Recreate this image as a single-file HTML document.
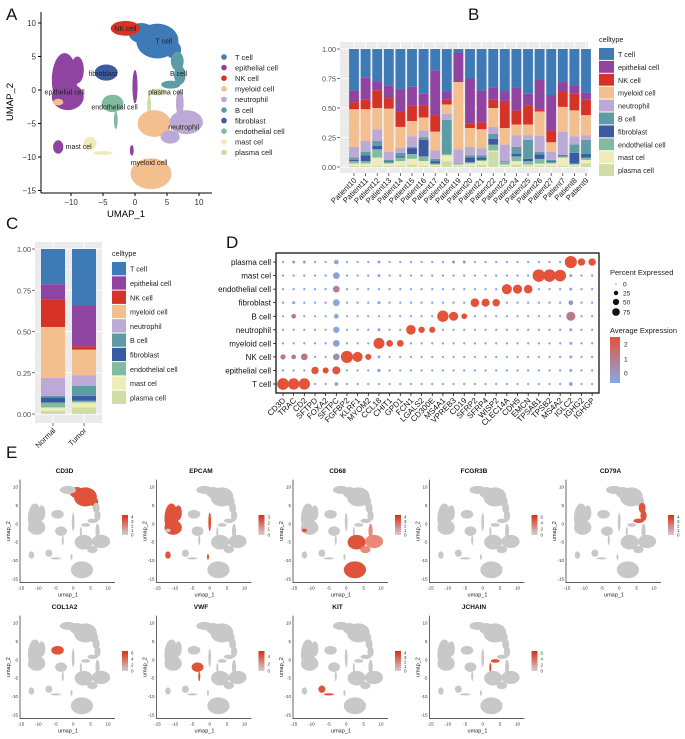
<!DOCTYPE html>
<html><head><meta charset="utf-8"><style>
html,body{margin:0;padding:0;background:#fff;}
svg{display:block;font-family:"Liberation Sans",Arial,sans-serif;}
</style></head><body>
<svg id="fig" width="685" height="739" viewBox="0 0 685 739" xmlns="http://www.w3.org/2000/svg"></svg>
<script>
const NS='http://www.w3.org/2000/svg';
const svg=document.getElementById('fig');
const cellTypes=['T cell','epithelial cell','NK cell','myeloid cell','neutrophil','B cell','fibroblast','endothelial cell','mast cel','plasma cell'];
const colors=['#3E7BB6','#8E44A0','#D63228','#F3BF8E','#BDA9D5','#5E9CA5','#3C5AA3','#80BB9F','#EFEDB7','#CFDDA5'];
// Panel B data (proportions per patient, index aligned with cellTypes)
const patients=['Patient10','Patient11','Patient12','Patient13','Patient14','Patient15','Patient16','Patient17','Patient18','Patient19','Patient20','Patient21','Patient22','Patient23','Patient24','Patient25','Patient26','Patient27','Patient7','Patient8','Patient9'];
const tCell=[.35,.24,.28,.31,.34,.32,.38,.18,.36,.03,.25,.35,.33,.36,.33,.38,.26,.39,.28,.31,.37];
const epiCell=[.10,.19,.07,.11,.19,.16,.10,.38,.07,.25,.38,.27,.10,.08,.19,.10,.26,.30,.08,.07,.06];
const nkCell=[.06,.08,.15,.09,.13,.13,.10,.14,.04,.0,.04,.06,.07,.23,.12,.16,.02,.10,.13,.14,.13];
const myeCell=[.32,.27,.18,.37,.18,.13,.11,.16,.08,.57,.16,.16,.16,.14,.09,.09,.21,.08,.21,.22,.17];
const neuCell=[.09,.09,.10,.07,.04,.09,.06,.07,.05,.12,.07,.06,.06,.14,.10,.04,.14,.07,.20,.07,.04];
const bCell=[.02,.03,.04,.01,.03,.01,.02,.02,.29,.0,.02,.02,.04,.01,.06,.16,.02,.01,.0,.07,.12];
const fibCell=[.01,.05,.03,.01,.01,.05,.14,.02,.0,.0,.04,.02,.05,.0,.02,.02,.04,.01,.01,.09,.03];
const endCell=[.02,.02,.07,.01,.03,.04,.04,.01,.01,.01,.01,.01,.05,.02,.04,.03,.04,.01,.01,.01,.02];
const mastCell=[.02,.02,.07,.02,.04,.05,.04,.01,.05,.01,.02,.03,.01,.01,.03,.01,.02,.02,.07,.01,.03];
const plasCell=[.01,.01,.01,.01,.01,.02,.01,.01,.05,.01,.01,.02,.13,.01,.02,.01,.01,.01,.01,.01,.03];
// Panel C data
const groups=['Normal','Tumor'];
const groupT=[.215,.34];
const groupEpi=[.095,.25];
const groupNK=[.165,.02];
const groupMye=[.31,.155];
const groupNeu=[.11,.065];
const groupB=[.01,.06];
const groupFib=[.03,.03];
const groupEnd=[.03,.01];
const groupMast=[.02,.03];
const groupPlas=[.02,.04];
const propTicks=['0.00','0.25','0.50','0.75','1.00'];
// Panel D data
const genes=['CD3D','TRAC','CD2','SFTPD','FOXA2','SFTPC','FGFBP2','KLRF1','MYOM2','CCL18','CHIT1','GPD1','FCN1','LGALS2','CD300E','MS4A1','VPREB3','CD19','SFRP2','SFRP4','WISP2','CLEC14A','CDH5','EMCN','TPSAB1','TPSB2','MS4A2','IGLC2','IGHG2','IGHGP'];
const pctT   =[75,70,70,3,3,8,3,3,3,3,3,3,3,3,3,3,3,3,3,3,3,3,3,3,3,3,3,8,3,3];
const pctEpi =[3,3,3,30,20,35,3,3,3,6,3,3,3,3,3,3,3,3,3,3,3,3,3,3,3,3,3,5,3,3];
const pctNK  =[15,12,25,3,3,25,80,55,20,5,3,3,3,3,3,3,3,3,3,3,3,3,3,3,3,3,3,5,3,3];
const pctMye =[3,3,3,3,3,25,3,3,3,65,25,25,3,3,3,3,3,3,3,3,3,3,3,3,3,3,3,5,3,3];
const pctNeu =[3,3,3,3,3,22,3,3,3,5,3,3,50,22,20,3,3,3,3,3,3,3,3,3,3,3,3,5,3,3];
const pctB   =[3,12,3,3,3,12,3,3,3,3,3,3,3,3,3,70,45,18,3,3,3,3,3,3,3,3,3,45,3,3];
const pctFib =[3,5,3,3,3,25,3,3,3,5,3,3,3,3,3,3,3,3,40,35,30,3,3,3,3,3,3,12,3,3];
const pctEnd =[3,3,3,3,3,25,3,3,3,3,3,3,3,3,3,3,3,3,3,3,3,55,45,40,3,3,3,5,3,3];
const pctMast=[3,3,3,3,3,25,3,3,3,5,3,3,3,3,3,3,3,3,3,3,3,3,3,3,85,85,75,5,3,3];
const pctPlas=[3,5,5,3,3,12,3,3,3,5,3,3,3,3,3,3,5,5,3,3,3,3,3,3,3,3,3,80,30,30];
const hiExpr=2.3, loExpr=-0.3;
const exprT   =[2.3,2.3,2.3,-.3,-.3,-.2,-.3,-.3,-.3,-.3,-.3,-.3,-.3,-.3,-.3,-.3,-.3,-.3,-.3,-.3,-.3,-.3,-.3,-.3,-.3,-.3,-.3,-.1,-.3,-.3];
const exprEpi =[-.3,-.3,-.3,2.3,2.3,2.2,-.3,-.3,-.3,-.2,-.3,-.3,-.3,-.3,-.3,-.3,-.3,-.3,-.3,-.3,-.3,-.3,-.3,-.3,-.3,-.3,-.3,-.2,-.3,-.3];
const exprNK  =[1.2,1.1,1.2,-.3,-.3,.5,2.3,2.3,2.3,-.2,-.3,-.3,-.3,-.3,-.3,-.3,-.3,-.3,-.3,-.3,-.3,-.3,-.3,-.3,-.3,-.3,-.3,-.2,-.3,-.3];
const exprMye =[-.3,-.3,-.3,-.3,-.3,0,-.3,-.3,-.3,2.3,2.3,2.3,-.3,-.3,-.3,-.3,-.3,-.3,-.3,-.3,-.3,-.3,-.3,-.3,-.3,-.3,-.3,-.2,-.3,-.3];
const exprNeu =[-.3,-.3,-.3,-.3,-.3,-.2,-.3,-.3,-.3,-.2,-.3,-.3,2.3,2.3,2.3,-.3,-.3,-.3,-.3,-.3,-.3,-.3,-.3,-.3,-.3,-.3,-.3,-.2,-.3,-.3];
const exprB   =[-.3,1.1,-.3,-.3,-.3,-.2,-.3,-.3,-.3,-.3,-.3,-.3,-.3,-.3,-.3,2.3,2.3,2.3,-.3,-.3,-.3,-.3,-.3,-.3,-.3,-.3,-.3,1.1,-.3,-.3];
const exprFib =[-.3,-.2,-.3,-.3,-.3,-.2,-.3,-.3,-.3,-.2,-.3,-.3,-.3,-.3,-.3,-.3,-.3,-.3,2.3,2.3,2.3,-.3,-.3,-.3,-.3,-.3,-.3,.3,-.3,-.3];
const exprEnd =[-.3,-.3,-.3,-.3,-.3,.9,-.3,-.3,-.3,-.3,-.3,-.3,-.3,-.3,-.3,-.3,-.3,-.3,-.3,-.3,-.3,2.3,2.3,2.3,-.3,-.3,-.3,-.2,-.3,-.3];
const exprMast=[-.3,-.3,-.3,-.3,-.3,-.1,-.3,-.3,-.3,-.2,-.3,-.3,-.3,-.3,-.3,-.3,-.3,-.3,-.3,-.3,-.3,-.3,-.3,-.3,2.3,2.3,2.3,-.2,-.3,-.3];
const exprPlas=[-.3,-.2,-.2,-.3,-.3,-.2,-.3,-.3,-.3,-.2,-.3,-.3,-.3,-.3,-.3,-.3,.2,.4,-.3,-.3,-.3,-.3,-.3,-.3,-.3,-.3,-.3,2.3,2.3,2.3];
// Panel E
const featureGenes=['CD3D','EPCAM','CD68','FCGR3B','CD79A','COL1A2','VWF','KIT','JCHAIN'];
const featureMax=[4,3,4,6,4,6,5,4,6];

function el(tag,attrs,parent){const e=document.createElementNS(NS,tag);for(const k in attrs)e.setAttribute(k,attrs[k]);(parent||svg).appendChild(e);return e;}
function txt(s,x,y,attrs,parent){const t=el('text',Object.assign({x:x,y:y},attrs||{}),parent);t.textContent=s;return t;}

// panel letters
[['A',6,20],['B',468,20],['C',6,229],['D',226,248],['E',6,458]].forEach(p=>{
  const t=txt(p[0],p[1],p[2],{'font-size':17,fill:'#111'});
  
  
});

// ---------- UMAP shapes in data units ----------
const shapes=[
 [0,1,8.5,2,1.5],[0,3.5,7.3,3.3,2.6],[0,6,6,1.2,1.3],
 [2,-1.5,9.2,2.3,1.1],
 [5,6.6,4.3,1,1.4],[5,7,2.2,.9,1.4],[5,5.6,0.8,1.5,.6],
 [9,3.6,-0.3,1.3,.5],[9,2.2,-2.2,.3,1.4],
 [6,-4.5,2.6,1.8,1.2],
 [1,-11,1.5,2,4],[1,-10.5,-1,2.5,2],[1,-9,3,1,2],[1,-12,-8.5,.8,1],[1,0,0.5,.4,2.5],[1,-0.5,-9,.3,.8],
 [7,-3.5,-2,1.7,1.3],[7,-3,-4.5,.3,1.3],
 [8,-7,-8,1,1],[8,-5,-9.4,1.5,.3],
 [3,2.5,-12.5,3.2,2.3],[3,3,-5,2.6,2],[3,-12,-1.8,.8,.5],
 [4,8,-4.8,2.6,1.8],[4,7,-2,.6,2],[4,5.5,-7,1.5,1]
];
function drawUmap(g,sx,sy,colorFn,opacityFn){
  shapes.forEach(s=>{
    const e=el('ellipse',{cx:sx(s[1]),cy:sy(s[2]),rx:Math.abs(sx(s[1]+s[3])-sx(s[1])),ry:Math.abs(sy(s[2]+s[4])-sy(s[2])),fill:colorFn(s[0]),opacity:opacityFn?opacityFn(s[0]):1},g);
    
    
  });
}

// ---------- Panel A ----------
(function(){
  const g=el('g',{});
  
  
  const sx=v=>135+v*6.4, sy=v=>90-v*6.7;
  drawUmap(g,sx,sy,i=>colors[i]);
  el('line',{x1:41,y1:12,x2:41,y2:193,stroke:'#000','stroke-width':1},g);
  el('line',{x1:41,y1:193,x2:212,y2:193,stroke:'#000','stroke-width':1},g);
  [-10,-5,0,5,10].forEach(v=>{el('line',{x1:sx(v),y1:193,x2:sx(v),y2:196,stroke:'#000'},g);txt(String(v).replace('-','−'),sx(v),205,{'font-size':8,'text-anchor':'middle',fill:'#333'},g);});
  [10,5,0,-5,-10,-15].forEach(v=>{el('line',{x1:38,y1:sy(v),x2:41,y2:sy(v),stroke:'#000'},g);txt(String(v).replace('-','−'),36,sy(v)+3,{'font-size':8,'text-anchor':'end',fill:'#333'},g);});
  txt('UMAP_1',126,217,{'font-size':9.5,'text-anchor':'middle'},g);
  txt('UMAP_2',13,102,{'font-size':9.5,'text-anchor':'middle',transform:'rotate(-90 13 102)'},g);
  const lab=[['NK cell',-1.5,9.2],['T cell',4.5,7.3],['B cell',6.8,2.5],['plasma cell',4.8,-0.3],['fibroblast',-5,2.5],['epithelial cell',-11,-0.3],['endothelial cell',-3.2,-2.5],['mast cel',-8.8,-8.4],['neutrophil',7.6,-5.5],['myeloid cell',2.2,-10.8]];
  lab.forEach(l=>{const t=txt(l[0],sx(l[1]),sy(l[2])+2.5,{'font-size':7,'text-anchor':'middle',fill:'#222'},g);});
  cellTypes.forEach((c,i)=>{
    const y=57+i*10.6;
    const d=el('circle',{cx:224,cy:y,r:2.8,fill:colors[i]},g);
    
    txt(c,235,y+2.8,{'font-size':7.5,fill:'#222'},g);
  });
})();

// ---------- stacked bar helper ----------
function stacked(opts){
  const g=el('g',{});
  
  
  el('rect',{x:opts.px0,y:opts.py0,width:opts.px1-opts.px0,height:opts.py1-opts.py0,fill:'#EBEBEB'},g);
  const sy=v=>opts.y0-(opts.y0-opts.y1)*v;
  [0.125,0.375,0.625,0.875].forEach(v=>el('line',{x1:opts.px0,x2:opts.px1,y1:sy(v),y2:sy(v),stroke:'#F5F5F5','stroke-width':.5},g));
  [0,.25,.5,.75,1].forEach(v=>el('line',{x1:opts.px0,x2:opts.px1,y1:sy(v),y2:sy(v),stroke:'#fff','stroke-width':.9},g));
  opts.cats.forEach((c,i)=>{const cx=opts.x0+opts.step*i;el('line',{x1:cx,x2:cx,y1:opts.py0,y2:opts.py1,stroke:'#fff','stroke-width':.9},g);});
  propTicks.forEach((t,i)=>{const v=i*.25;el('line',{x1:opts.px0-3,x2:opts.px0,y1:sy(v),y2:sy(v),stroke:'#333','stroke-width':.7},g);txt(t,opts.px0-4,sy(v)+3,{'font-size':opts.fs,'text-anchor':'end',fill:'#4D4D4D'},g);});
  const series=opts.series;
  opts.cats.forEach((c,i)=>{
    const cx=opts.x0+opts.step*i;
    let cum=0;
    const order=[9,8,7,6,5,4,3,2,1,0];
    let total=0;order.forEach(k=>total+=series[k][i]);
    order.forEach(k=>{
      const v=series[k][i]/total;
      const r=el('rect',{x:cx-opts.bw/2,y:sy(cum+v),width:opts.bw,height:Math.max(0,sy(cum)-sy(cum+v)),fill:colors[k]},g);
      
      
      cum+=v;
    });
    el('line',{x1:cx,x2:cx,y1:opts.py1,y2:opts.py1+3,stroke:'#333','stroke-width':.7},g);
    const lx=cx+3,ly=opts.py1+8;
    txt(c,lx,ly,{'font-size':opts.fs+0.5,'text-anchor':'end',fill:'#222',transform:`rotate(-45 ${lx} ${ly})`},g);
  });
  txt('celltype',opts.lx,opts.ly,{'font-size':opts.fs,fill:'#222'},g);
  cellTypes.forEach((ct,i)=>{
    const y=opts.ly+6+i*opts.lstep;
    const r=el('rect',{x:opts.lx,y:y,width:opts.lk,height:opts.lstep-1,fill:colors[i]},g);
    
    txt(ct,opts.lx+opts.lk+4,y+opts.lstep/2+2.5,{'font-size':opts.fs,fill:'#222'},g);
  });
}
stacked({name:'patient-proportion-chart',cats:patients,series:[tCell,epiCell,nkCell,myeCell,neuCell,bCell,fibCell,endCell,mastCell,plasCell],
  px0:340,px1:588,py0:42,py1:173,y0:167,y1:49,x0:354,step:11.6,bw:9.8,fs:7.2,lx:599,ly:42,lstep:12.9,lk:15});
stacked({name:'group-proportion-chart',cats:groups,series:[groupT,groupEpi,groupNK,groupMye,groupNeu,groupB,groupFib,groupEnd,groupMast,groupPlas],
  px0:35,px1:102,py0:242,py1:423,y0:414,y1:249,x0:53,step:31,bw:24,fs:7.2,lx:112,ly:256,lstep:14.3,lk:14});

// ---------- Panel D ----------
(function(){
  const g=el('g',{});
  
  
  const pct=[pctT,pctEpi,pctNK,pctMye,pctNeu,pctB,pctFib,pctEnd,pctMast,pctPlas];
  const expr=[exprT,exprEpi,exprNK,exprMye,exprNeu,exprB,exprFib,exprEnd,exprMast,exprPlas];
  const sx=i=>283+i*10.66, sy=r=>384-r*13.55;
  const lo=[132,170,228],hi=[228,82,58];
  const col=v=>{const t=Math.max(0,Math.min(1,(v-loExpr)/(hiExpr-loExpr)));return 'rgb('+lo.map((c,k)=>Math.round(c+(hi[k]-c)*t)).join(',')+')';};
  el('rect',{x:276,y:253,width:323,height:140,fill:'#fff',stroke:'#000','stroke-width':1.2},g);
  cellTypes.forEach((c,r)=>{
    el('line',{x1:273,x2:276,y1:sy(r),y2:sy(r),stroke:'#000','stroke-width':.7},g);
    txt(c,271,sy(r)+3,{'font-size':8,'text-anchor':'end',fill:'#111'},g);
    genes.forEach((gn,i)=>{
      const d=el('circle',{cx:sx(i),cy:sy(r),r:Math.max(0.6,Math.sqrt(pct[r][i])*0.68),fill:col(expr[r][i])},g);
      
      
    });
  });
  genes.forEach((gn,i)=>{
    el('line',{x1:sx(i),x2:sx(i),y1:393,y2:396,stroke:'#000','stroke-width':.7},g);
    const lx=sx(i)+3,ly=401;
    txt(gn,lx,ly,{'font-size':8,'text-anchor':'end',fill:'#111',transform:`rotate(-45 ${lx} ${ly})`},g);
  });
  txt('Percent Expressed',610,275,{'font-size':7.5,fill:'#222'},g);
  [[0,284],[25,293],[50,302],[75,312]].forEach(p=>{
    el('circle',{cx:616,cy:p[1],r:Math.max(0.5,Math.sqrt(p[0])*0.44),fill:'#111'},g);
    txt(String(p[0]),623,p[1]+2.5,{'font-size':6.5,fill:'#222'},g);
  });
  txt('Average Expression',610,333,{'font-size':7.5,fill:'#222'},g);
  const gr=el('linearGradient',{id:'gexp',x1:0,y1:1,x2:0,y2:0},el('defs',{},g));
  el('stop',{offset:0,'stop-color':col(loExpr)},gr);el('stop',{offset:.5,'stop-color':col(1)},gr);el('stop',{offset:1,'stop-color':col(hiExpr)},gr);
  el('rect',{x:610,y:337,width:10,height:46,fill:'url(#gexp)'},g);
  [[2,344],[1,359],[0,373]].forEach(p=>txt(String(p[0]),624,p[1]+2.5,{'font-size':6.5,fill:'#222'},g));
})();

// ---------- Panel E ----------
(function(){
  const hl=[[0],[1],[3,4],[],[5],[6],[7],[8],[9]];
  const light=[[],[],[4],[],[],[],[],[],[]];
  featureGenes.forEach((gn,k)=>{
    const col=k<5?k:k-5, row=k<5?0:1;
    const ox=col*136.5, oy=row*136;
    const g=el('g',{});
    
    
    const sx=v=>21+ox+(v+15)*3.48, sy=v=>oy+487-(v-10)*3.68;
    drawUmap(g,sx,sy,i=>hl[k].includes(i)?(light[k].includes(i)?'#E98A78':'#E0533B'):'#C8C8C8');
    el('line',{x1:sx(-15)-1,y1:sy(12),x2:sx(-15)-1,y2:sy(-16),stroke:'#000','stroke-width':.6},g);
    el('line',{x1:sx(-15)-1,y1:sy(-16),x2:sx(12),y2:sy(-16),stroke:'#000','stroke-width':.6},g);
    [-15,-10,-5,0,5,10].forEach(v=>txt(String(v),sx(v),sy(-16)+7,{'font-size':4.5,'text-anchor':'middle',fill:'#333'},g));
    [10,5,0,-5,-10,-15].forEach(v=>txt(String(v),sx(-15)-3,sy(v)+1.5,{'font-size':4.5,'text-anchor':'end',fill:'#333'},g));
    txt('umap_1',sx(-1.5),sy(-16)+14,{'font-size':5.5,'text-anchor':'middle',fill:'#222'},g);
    const yx=sx(-15)-11, yy=sy(-2);
    txt('umap_2',yx,yy,{'font-size':5.5,'text-anchor':'middle',fill:'#222',transform:`rotate(-90 ${yx} ${yy})`},g);
    const t=txt(gn,sx(-2.5),oy+473,{'font-size':6.5,'font-weight':'bold','text-anchor':'middle',fill:'#111'},g);
    
    const gid='gf'+k;
    const gr=el('linearGradient',{id:gid,x1:0,y1:1,x2:0,y2:0},el('defs',{},g));
    el('stop',{offset:0,'stop-color':'#CFCFCF'},gr);el('stop',{offset:1,'stop-color':'#E02A1C'},gr);
    const cbx=ox+122, cby=oy+515;
    el('rect',{x:cbx,y:cby,width:6,height:20,fill:'url(#'+gid+')'},g);
    const mx=featureMax[k];
    const step=mx>4?2:1;
    for(let v=0;v<=mx;v+=step){txt(String(v),cbx+9,cby+20-(v/mx)*18+1.5,{'font-size':4.5,fill:'#333'},g);}
  });
})();
</script>
</body></html>
